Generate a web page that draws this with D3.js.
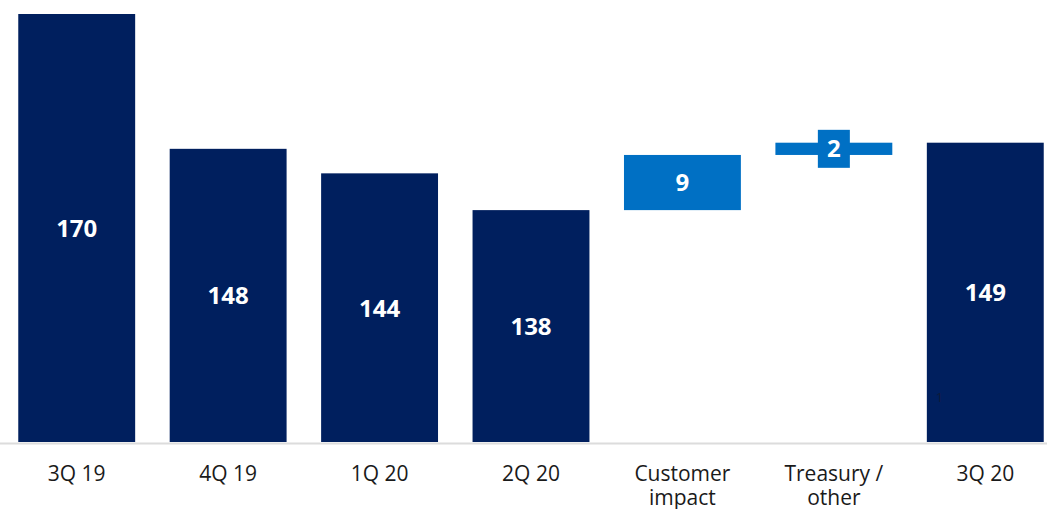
<!DOCTYPE html>
<html>
<head>
<meta charset="utf-8">
<script src="https://cdn.jsdelivr.net/npm/d3@7"></script>
<style>
  html, body { margin: 0; padding: 0; background: #fff; }
  svg { display: block; }
</style>
</head>
<body>
<svg id="chart" width="1047" height="509"></svg>
<script>
// Waterfall of quarterly values with the movement into 3Q 20
const categories = ["3Q 19", "4Q 19", "1Q 20", "2Q 20", "Customer\nimpact", "Treasury /\nother", "3Q 20"];
const barKinds   = ["total", "total", "total", "total", "delta", "delta", "total"];
const barValues  = [170, 148, 144, 138, 9, 2, 149];
const valueLabels = ["170", "148", "144", "138", "9", "2", "149"];
const yDomain = [100, 170];

const W = 1047, H = 509;
const baseY = 443;
const navy = "#001F5E";
const blue = "#0070C4";

const svg = d3.select("#chart");

const x = d3.scaleBand()
  .domain(categories)
  .range([1, 1061])
  .paddingInner(0.228)
  .paddingOuter(0.114);

const y = d3.scaleLinear().domain(yDomain).range([baseY, 14]);

// Running totals: deltas float on top of the previous level
let level = 0;
const bars = categories.map((c, i) => {
  let lo, hi;
  if (barKinds[i] === "total") {
    lo = yDomain[0]; hi = barValues[i]; level = barValues[i];
  } else {
    lo = level; hi = level + barValues[i]; level = hi;
  }
  return { cat: c, kind: barKinds[i], lo, hi, label: valueLabels[i] };
});

// Baseline
svg.append("line")
  .attr("x1", 0).attr("x2", W)
  .attr("y1", baseY + 0.5).attr("y2", baseY + 0.5)
  .attr("stroke", "#dcdcdc").attr("stroke-width", 2);

// Bars
svg.append("g").selectAll("rect")
  .data(bars)
  .join("rect")
  .attr("x", d => x(d.cat))
  .attr("width", x.bandwidth())
  .attr("y", d => y(d.hi))
  .attr("height", d => Math.max(0, y(d.lo) - y(d.hi) - (d.kind === "total" ? 1 : 0)))
  .attr("fill", d => d.kind === "total" ? navy : blue);

// Value labels, centred in each bar
const lbl = svg.append("g")
  .attr("font-family", "'Open Sans', sans-serif")
  .attr("font-weight", 700)
  .attr("font-size", 24)
  .attr("fill", "#fff")
  .attr("text-anchor", "middle");

bars.forEach(d => {
  const cx = x(d.cat) + x.bandwidth() / 2;
  const cy = (y(d.lo) + y(d.hi)) / 2;
  const h = y(d.lo) - y(d.hi);
  if (h < 30) {
    // thin bar: label sits on its own box
    lbl.append("rect")
      .attr("x", cx - 16).attr("y", cy - 19)
      .attr("width", 32).attr("height", 38)
      .attr("fill", blue);
  }
  lbl.append("text")
    .attr("x", cx).attr("y", cy)
    .attr("dy", "0.35em")
    .text(d.label);
});

// Category labels
const cats = svg.append("g")
  .attr("font-family", "'Open Sans', sans-serif")
  .attr("font-size", 21)
  .attr("fill", "#1a1a1a")
  .attr("text-anchor", "middle");

categories.forEach(c => {
  const cx = x(c) + x.bandwidth() / 2;
  const t = cats.append("text").attr("x", cx).attr("y", 481);
  c.split("\n").forEach((line, j) => {
    t.append("tspan").attr("x", cx).attr("dy", j === 0 ? 0 : 24).text(line);
  });
});

// Footnote marker inside the last bar
svg.append("text")
  .attr("x", x("3Q 20") + 9).attr("y", 402)
  .attr("font-family", "'Open Sans', sans-serif")
  .attr("font-size", 13)
  .attr("fill", "#101a38")
  .text("1");
</script>
</body>
</html>
